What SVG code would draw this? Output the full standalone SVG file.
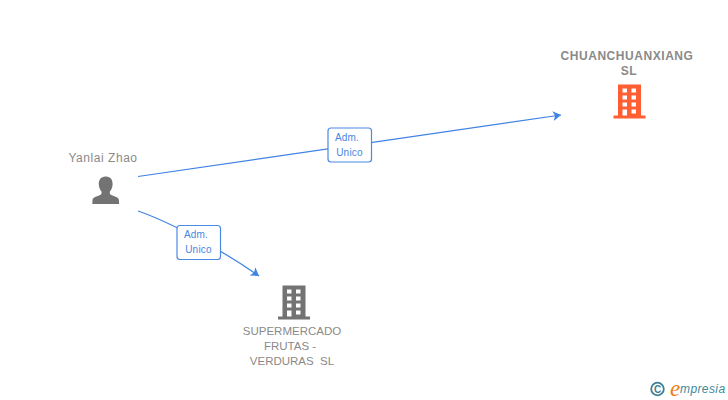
<svg xmlns="http://www.w3.org/2000/svg" width="728" height="400" viewBox="0 0 728 400">
<style>
.name{font-family:"Liberation Sans",Arial,sans-serif;font-size:11.5px;fill:#8a8a8a;text-anchor:middle}
.person{font-size:12px;letter-spacing:.55px}
.bold{font-weight:bold;font-size:12px;letter-spacing:.55px}
.lab{font-family:"Liberation Sans",Arial,sans-serif;font-size:10px;letter-spacing:.2px;fill:#4a86e0;text-anchor:middle}
.box{fill:#fff;stroke:#4a8ae6;stroke-width:1.2}
.edge{fill:none;stroke:#3f83e4;stroke-width:1.2}
.win{fill:#fff}
</style>
<defs>
<marker id="arrow" markerUnits="userSpaceOnUse" markerWidth="10" markerHeight="12" refX="8" refY="5" orient="auto"><path d="M0 0L8 5L0 10L2 5Z" fill="#3f83e4"/></marker>
<g id="building">
<rect x="4.500" y="0" width="23" height="32"/>
<rect x="0" y="31" width="32" height="3"/>
<g class="win">
<rect x="9" y="4" width="4.500" height="4"/><rect x="18" y="4" width="4.500" height="4"/>
<rect x="9" y="11" width="4.500" height="4"/><rect x="18" y="11" width="4.500" height="4"/>
<rect x="9" y="18" width="4.500" height="4"/><rect x="18" y="18" width="4.500" height="4"/>
<rect x="9" y="25" width="4.500" height="6"/><rect x="18" y="25" width="4.500" height="4"/>
</g>
</g>
</defs>
<g id="connectors">
<path class="edge" d="M138 176.500L561 115" marker-end="url(#arrow)"/>
<path class="edge" d="M138 211C170 222 222 250 259 276" marker-end="url(#arrow)"/>
</g>
<g id="edge-label-1">
<rect class="box" x="328" y="128" width="43.500" height="34" rx="3"/>
<text class="lab" x="347" y="141">Adm.</text>
<text class="lab" x="349.500" y="156">Unico</text>
</g>
<g id="edge-label-2">
<rect class="box" x="177" y="225.500" width="43.500" height="34" rx="3"/>
<text class="lab" x="196" y="238">Adm.</text>
<text class="lab" x="198.500" y="253">Unico</text>
</g>
<g id="node-chuanchuanxiang">
<text class="name bold" x="627" y="60">CHUANCHUANXIANG</text>
<text class="name bold" x="629" y="75">SL</text>
<use href="#building" x="613.500" y="84.500" fill="#ff5f33"/>
</g>
<g id="node-yanlai">
<text class="name person" x="103" y="162">Yanlai Zhao</text>
<path fill="#737373" d="M105.500 176.500c-4.600 0-7 3.600-6.700 8 .2 3 1.300 5.400 2.700 7.100.3 1.500 0 2.600-.9 3.200-2.500 1.500-7.700 2-8.100 5.200l-.2 4h26.800l-.2-4c-.4-3.200-5.600-3.700-8.100-5.200-.9-.6-1.200-1.700-.9-3.200 1.400-1.700 2.500-4.100 2.700-7.100.3-4.400-2.100-8-6.600-8z"/>
</g>
<g id="node-supermercado">
<use href="#building" x="278" y="285.500" fill="#737373"/>
<text class="name" x="292" y="335">SUPERMERCADO</text>
<text class="name" x="290" y="350">FRUTAS -</text>
<text class="name" x="292" y="365" xml:space="preserve">VERDURAS  SL</text>
</g>
<g id="logo">
<circle cx="657.500" cy="389" r="6.300" fill="none" stroke="#3f7f93" stroke-width="1.800"/>
<text x="657.500" y="392.500" font-family="Liberation Sans,sans-serif" font-size="10" font-weight="bold" fill="#3f7f93" text-anchor="middle">C</text>
<text x="670" y="396" font-family="Liberation Serif,serif" font-style="italic" font-size="23" fill="#f07c10">e</text>
<text x="680" y="393" font-family="Liberation Sans,sans-serif" font-style="italic" font-size="12" letter-spacing=".4" fill="#3f8a9c">mpresia</text>
</g>
</svg>
